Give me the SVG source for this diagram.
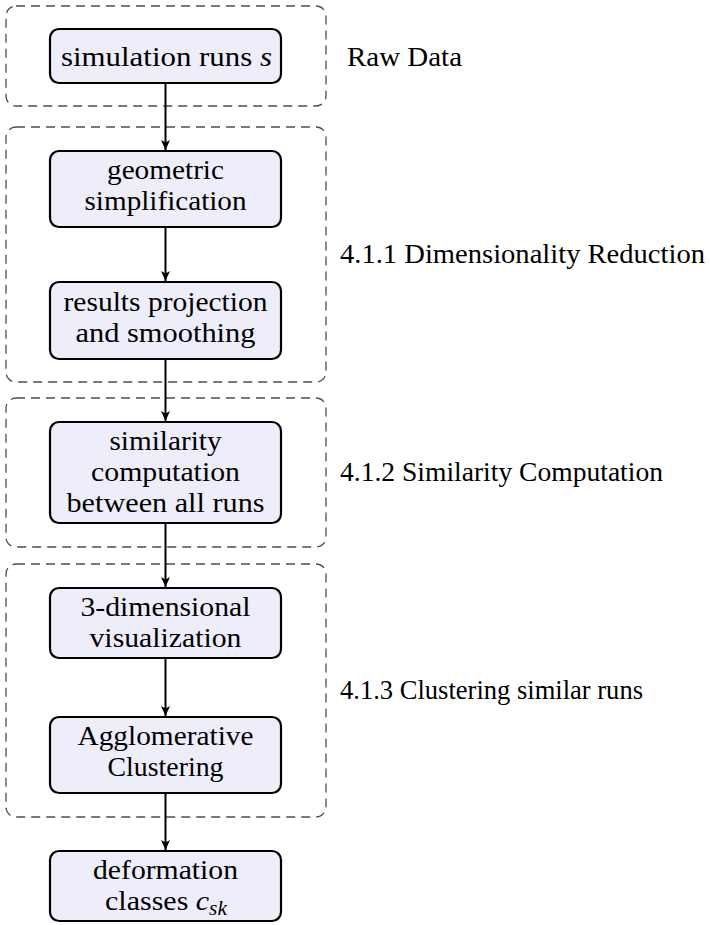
<svg xmlns="http://www.w3.org/2000/svg" width="710" height="925" viewBox="0 0 710 925">
  <style>
    .grp { fill: none; stroke: #4d4d4d; stroke-width: 1.3; stroke-dasharray: 9 6; }
    .box { fill: #eeeefb; stroke: #000000; stroke-width: 2.2; }
    .lbl { font-family: "Liberation Serif", "Times New Roman", serif; font-size: 28px; fill: #000000; }
    .ctr { text-anchor: middle; }
    .math { font-style: italic; }
    .edge { stroke: #000000; stroke-width: 2; fill: none; marker-end: url(#tip); }
  </style>
  <defs>
    <marker id="tip" viewBox="-11 -5 12 10" refX="0" refY="0" markerWidth="12" markerHeight="10" markerUnits="userSpaceOnUse" orient="auto">
      <path d="M0,0 L-10,-4.5 L-7.5,0 L-10,4.5 Z" fill="#000000"/>
    </marker>
  </defs>

  <rect width="710" height="925" fill="#ffffff"/>

  <!-- stage frames -->
  <g id="stages">
    <rect class="grp" x="6" y="6" width="320" height="100" rx="10"/>
    <rect class="grp" x="6" y="127" width="320" height="255" rx="10"/>
    <rect class="grp" x="6" y="398" width="320" height="149" rx="10"/>
    <rect class="grp" x="6" y="564" width="320" height="253" rx="10"/>
  </g>

  <!-- stage labels -->
  <g id="stage-labels">
    <text class="lbl" x="347" y="66" textLength="115" lengthAdjust="spacingAndGlyphs">Raw Data</text>
    <text class="lbl" x="340" y="263" textLength="365" lengthAdjust="spacingAndGlyphs">4.1.1 Dimensionality Reduction</text>
    <text class="lbl" x="340" y="481" textLength="323" lengthAdjust="spacingAndGlyphs">4.1.2 Similarity Computation</text>
    <text class="lbl" x="340" y="699" textLength="303" lengthAdjust="spacingAndGlyphs">4.1.3 Clustering similar runs</text>
  </g>

  <!-- connectors -->
  <g id="connectors">
    <line class="edge" x1="165.5" y1="83" x2="165.5" y2="150"/>
    <line class="edge" x1="165.5" y1="227" x2="165.5" y2="281"/>
    <line class="edge" x1="165.5" y1="359" x2="165.5" y2="421"/>
    <line class="edge" x1="165.5" y1="523" x2="165.5" y2="587"/>
    <line class="edge" x1="165.5" y1="658" x2="165.5" y2="716"/>
    <line class="edge" x1="165.5" y1="793" x2="165.5" y2="850"/>
  </g>

  <g id="simulation-runs">
    <rect class="box" x="50" y="29" width="231" height="54" rx="9"/>
    <text class="lbl" x="61" y="66" textLength="211" lengthAdjust="spacingAndGlyphs">simulation runs <tspan class="math">s</tspan></text>
  </g>

  <g id="geometric-simplification">
    <rect class="box" x="50" y="151" width="231" height="76" rx="9"/>
    <text class="lbl ctr" x="165.5" y="179" textLength="117" lengthAdjust="spacingAndGlyphs">geometric</text>
    <text class="lbl ctr" x="165.5" y="210" textLength="162" lengthAdjust="spacingAndGlyphs">simplification</text>
  </g>

  <g id="results-projection">
    <rect class="box" x="50" y="282" width="231" height="77" rx="9"/>
    <text class="lbl ctr" x="165.5" y="311" textLength="204" lengthAdjust="spacingAndGlyphs">results projection</text>
    <text class="lbl ctr" x="165.5" y="342" textLength="180" lengthAdjust="spacingAndGlyphs">and smoothing</text>
  </g>

  <g id="similarity-computation">
    <rect class="box" x="50" y="422" width="231" height="101" rx="9"/>
    <text class="lbl ctr" x="165.5" y="450" textLength="112" lengthAdjust="spacingAndGlyphs">similarity</text>
    <text class="lbl ctr" x="165.5" y="481" textLength="149" lengthAdjust="spacingAndGlyphs">computation</text>
    <text class="lbl ctr" x="165.5" y="512" textLength="198" lengthAdjust="spacingAndGlyphs">between all runs</text>
  </g>

  <g id="visualization">
    <rect class="box" x="50" y="588" width="231" height="70" rx="9"/>
    <text class="lbl ctr" x="165.5" y="616" textLength="170" lengthAdjust="spacingAndGlyphs">3-dimensional</text>
    <text class="lbl ctr" x="165.5" y="647" textLength="152" lengthAdjust="spacingAndGlyphs">visualization</text>
  </g>

  <g id="agglomerative-clustering">
    <rect class="box" x="50" y="717" width="231" height="76" rx="9"/>
    <text class="lbl ctr" x="165.5" y="745" textLength="176" lengthAdjust="spacingAndGlyphs">Agglomerative</text>
    <text class="lbl ctr" x="165.5" y="776" textLength="116" lengthAdjust="spacingAndGlyphs">Clustering</text>
  </g>

  <g id="deformation-classes">
    <rect class="box" x="50" y="851" width="231" height="70" rx="9"/>
    <text class="lbl ctr" x="165.5" y="879" textLength="145" lengthAdjust="spacingAndGlyphs">deformation</text>
    <text class="lbl" x="105" y="910" textLength="122" lengthAdjust="spacingAndGlyphs">classes <tspan class="math">c</tspan><tspan class="math" font-size="20" dy="5">sk</tspan></text>
  </g>
</svg>
